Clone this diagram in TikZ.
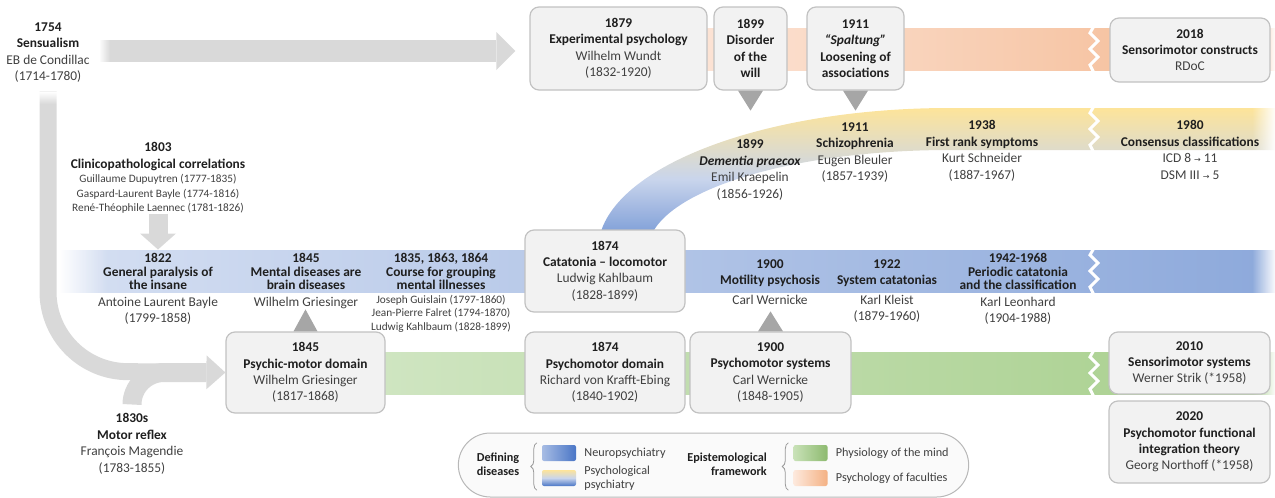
\documentclass[tikz,border=0pt]{standalone}
\usepackage{fontspec}
\setmainfont{Carlito}
\newfontfamily\arrowfont{DejaVu Sans}
\usepackage{tikz}
\usetikzlibrary{shapes,arrows.meta,fadings,positioning,decorations.pathreplacing}

\definecolor{boxfill}{HTML}{F2F2F2}
\definecolor{boxline}{HTML}{C2C2C2}
\definecolor{namegrey}{HTML}{404040}
\definecolor{greyarrow}{HTML}{D9D9D9}
\definecolor{tipgrey}{HTML}{A6A6A6}
\definecolor{peachL}{HTML}{FCE4D6}
\definecolor{peachR}{HTML}{F4B890}
\definecolor{blueL}{HTML}{D5DFF2}
\definecolor{blueR}{HTML}{8DA9DB}
\definecolor{greenL}{HTML}{CFE5C1}
\definecolor{greenR}{HTML}{A7CF8C}
\definecolor{yellowT}{HTML}{FDE49A}
\definecolor{blueB}{HTML}{6A8FD2}
\definecolor{paleband}{HTML}{C9D5EC}
\definecolor{neuroL}{HTML}{A7BCE4}
\definecolor{neuroR}{HTML}{4A76C6}
\definecolor{physL}{HTML}{C9E2B8}
\definecolor{physR}{HTML}{8DBA6F}
\definecolor{facL}{HTML}{FDE9DD}
\definecolor{facR}{HTML}{F4B183}

\tikzfading[name=fadein, left color=transparent!0, right color=transparent!100]
\tikzfading[name=fadeout, left color=transparent!100, right color=transparent!0]
\tikzfading[name=fadetop, top color=transparent!0, bottom color=transparent!100]

\newcommand{\who}[1]{\textcolor{namegrey}{#1}}
\newcommand{\mainsize}{\fontsize{13.4}{16.4}\selectfont}
\newcommand{\namesize}{\fontsize{11.3}{14}\selectfont}
\newcommand{\legendsize}{\fontsize{12.2}{13.8}\selectfont}
\newcommand{\goes}{{\arrowfont\fontsize{8}{8}\selectfont →}}

\tikzset{
	era/.style      = {draw = boxline, fill = boxfill, line width = 1.2pt,
		rounded corners = 9pt, align = center, inner sep = 1pt, text = black!88},
	note/.style     = {align = center, inner sep = 0pt, anchor = north, text = black!88},
	bandnote/.style = {note, font = \fontsize{13.4}{13.5}\selectfont},
	thread/.style   = {draw = greyarrow}, % grey arrows
	notch/.style    = {fill = tipgrey},
	swatch/.style   = {minimum width = 34pt, minimum height = 16pt,
		rounded corners = 2pt, inner sep = 0pt},
	keytext/.style  = {align = left, inner sep = 0pt, font = \legendsize, text = black!75},
	curly/.style    = {draw = black!40, line width = 0.8pt, decorate,
		decoration = {brace, amplitude = 6pt}}
}

\begin{document}
\begin{tikzpicture}[x=1pt, y=-1pt, font=\mainsize]
\useasboundingbox (0,0) rectangle (1275,498);

% coloured bands
\shade[left color=peachL, right color=peachR] (690,28) rectangle (1275,70);
\shade[top color=yellowT, bottom color=blueB, middle color=paleband]
	(598,250) arc[start angle=180, end angle=270, x radius=352, y radius=142] -- (1275,108)
	-- (1275,150) -- (950,150) arc[start angle=270, end angle=180, x radius=302, y radius=100] -- cycle;
\shade[left color=blueL, right color=blueR] (60,250) rectangle (1275,292);
\shade[left color=greenL, right color=greenR] (380,352) rectangle (1275,394);
\fill[white, path fading=fadein] (59,249) rectangle (108,293);
\foreach \y in {28,108,250,352}{
	\fill[white, path fading=fadeout] (1252,\y-1) rectangle (1276,\y+43);
	\draw[white, line width=3pt] (1094,\y-2) -- ++(-4,7) -- ++(8,8) -- ++(-8,8)
		-- ++(8,8) -- ++(-8,8) -- ++(4,8);
}

\draw
% psychology of faculties
node at (48,22.5)[note] (sens) {\textbf{1754}\\\textbf{Sensualism}\\\who{EB de Condillac}\\\who{(1714-1780)}}
node at (618.5,48.5)[era, minimum width=177pt, minimum height=83pt] (wundt)
	{\textbf{1879}\\\textbf{Experimental psychology}\\\who{Wilhelm Wundt}\\\who{(1832-1920)}}
node at (750.5,48.5)[era, minimum width=73pt, minimum height=83pt] (will)
	{\textbf{1899}\\\textbf{Disorder}\\\textbf{of the}\\\textbf{will}}
node at (855.5,48.5)[era, minimum width=97pt, minimum height=83pt] (spalt)
	{\textbf{1911}\\\textbf{\textit{“Spaltung”}}\\\textbf{Loosening of}\\\textbf{associations}}
node at (1190,50)[era, minimum width=160pt, minimum height=64pt] (rdoc)
	{\textbf{2018}\\\textbf{Sensorimotor constructs}\\\who{RDoC}}
% psychological psychiatry
node at (750,139.5)[note] (kraep) {\textbf{1899}\\\textbf{\textit{Dementia praecox}}\\\who{Emil Kraepelin}\\\who{(1856-1926)}}
node at (855,122.5)[note] (bleul) {\textbf{1911}\\\textbf{Schizophrenia}\\\who{Eugen Bleuler}\\\who{(1857-1939)}}
node at (982,120.5)[note] (schn) {\textbf{1938}\\\textbf{First rank symptoms}\\\who{Kurt Schneider}\\\who{(1887-1967)}}
node at (1190,120.5)[note] (icd) {\textbf{1980}\\\textbf{Consensus classifications}\\\who{ICD 8 \goes{} 11}\\\who{DSM III \goes{} 5}}
% neuropsychiatry
node at (158,142.5)[note] (clinico) {\textbf{1803}\\\textbf{Clinicopathological correlations}\\[-2pt]
	{\namesize\who{Guillaume Dupuytren (1777-1835)}}\\[-2pt]
	{\namesize\who{Gaspard-Laurent Bayle (1774-1816)}}\\[-2pt]
	{\namesize\who{René-Théophile Laennec (1781-1826)}}}
node at (158,253.5)[bandnote] (bayle) {\textbf{1822}\\\textbf{General paralysis of}\\\textbf{the insane}\\[3.5pt]
	\who{Antoine Laurent Bayle}\\[2.5pt]\who{(1799-1858)}}
node at (306,253.5)[bandnote] (brain) {\textbf{1845}\\\textbf{Mental diseases are}\\\textbf{brain diseases}\\[3pt]
	\who{Wilhelm Griesinger}}
node at (441,253.5)[bandnote] (course) {\textbf{1835, 1863, 1864}\\\textbf{Course for grouping}\\\textbf{mental illnesses}\\
	{\namesize\who{Joseph Guislain (1797-1860)}}\\
	{\namesize\who{Jean-Pierre Falret (1794-1870)}}\\
	{\namesize\who{Ludwig Kahlbaum (1828-1899)}}}
node at (605,271)[era, minimum width=160pt, minimum height=82pt] (cata)
	{\textbf{1874}\\\textbf{Catatonia – locomotor}\\\who{Ludwig Kahlbaum}\\\who{(1828-1899)}}
node at (770,259.5)[note] (motil) {\textbf{1900}\\\textbf{Motility psychosis}\\[3.5pt]\who{Carl Wernicke}}
node at (887,259.5)[note] (kleist) {\textbf{1922}\\\textbf{System catatonias}\\[3.5pt]\who{Karl Kleist}\\[-1pt]\who{(1879-1960)}}
node at (1018,253.5)[bandnote] (leon) {\textbf{1942-1968}\\\textbf{Periodic catatonia}\\\textbf{and the classification}\\[3.5pt]
	\who{Karl Leonhard}\\[2.5pt]\who{(1904-1988)}}
% physiology of the mind
node at (305.5,372.5)[era, minimum width=159pt, minimum height=81pt] (griesbox)
	{\textbf{1845}\\\textbf{Psychic-motor domain}\\\who{Wilhelm Griesinger}\\\who{(1817-1868)}}
node at (605,372.5)[era, minimum width=160pt, minimum height=81pt] (krafft)
	{\textbf{1874}\\\textbf{Psychomotor domain}\\\who{Richard von Krafft-Ebing}\\\who{(1840-1902)}}
node at (770.5,372.5)[era, minimum width=161pt, minimum height=81pt] (wern)
	{\textbf{1900}\\\textbf{Psychomotor systems}\\\who{Carl Wernicke}\\\who{(1848-1905)}}
node at (1189.5,363)[era, minimum width=161pt, minimum height=62pt] (strik)
	{\textbf{2010}\\\textbf{Sensorimotor systems}\\\who{Werner Strik (*1958)}}
node at (1189.5,442)[era, minimum width=161pt, minimum height=82pt] (northoff)
	{\textbf{2020}\\\textbf{Psychomotor functional}\\\textbf{integration theory}\\\who{Georg Northoff (*1958)}}
node at (132,413.5)[note] (magendie) {\textbf{1830s}\\\textbf{Motor reflex}\\\who{François Magendie}\\\who{(1783-1855)}};

% grey threads
\coordinate (sensband) at (100,51);
\draw[thread, line width=22pt, -{Triangle[width=38pt, length=19pt, line width=0pt]}, shorten >=14pt]
	(sensband) -- (sensband -| wundt.west);
\draw[thread, line width=17pt, -{Triangle[width=34pt, length=19pt, line width=0pt]}]
	([yshift=-9pt]sens.south) -- ++(0,200) arc[start angle=180, end angle=90, radius=80] -- (griesbox.west);
\draw[thread, line width=19pt, shorten >=19pt]
	([yshift=9pt]magendie.north) arc[start angle=180, end angle=270, radius=32] -- (griesbox.west);
\draw[thread, line width=19pt, -{Triangle[width=36pt, length=16pt, line width=0pt]}, shorten >=4pt]
	(clinico.south) -- (clinico.south |- bayle.north);
\fill[white, path fading=fadein] (99,38) rectangle (110,64);
\fill[white, path fading=fadetop] (37,92) rectangle (60,104);

% small pointers
\fill[notch] ([xshift=-12.5pt]will.south) -- ([xshift=12.5pt]will.south) -- ([yshift=-20pt]will.south) -- cycle;
\fill[notch] ([xshift=-12.5pt]spalt.south) -- ([xshift=12.5pt]spalt.south) -- ([yshift=-20pt]spalt.south) -- cycle;
\fill[notch] ([xshift=-12pt]griesbox.north) -- ([xshift=12pt]griesbox.north) -- ([yshift=22pt]griesbox.north) -- cycle;
\fill[notch] ([xshift=-12.5pt]wern.north) -- ([xshift=12.5pt]wern.north) -- ([yshift=20pt]wern.north) -- cycle;

% legend
\draw
node at (713.5,465)[rounded rectangle, draw=black!28, fill=black!2, line width=1pt,
	minimum width=517pt, minimum height=64pt] (legend) {}
node at (498,464)[note, anchor=center, font=\legendsize\bfseries] (defining) {Defining\\diseases}
node at (559,453)[swatch, left color=neuroL, right color=neuroR] (neuro) {}
node at (559,478)[swatch, top color=yellowT, bottom color=neuroR, middle color=paleband] (psych) {}
node[keytext, right=8pt of neuro] (neurotext) {Neuropsychiatry}
node[keytext, right=8pt of psych] (psychtext) {Psychological\\psychiatry}
node at (767,464)[note, anchor=east, align=right, font=\legendsize\bfseries] (episte) {Epistemological\\framework}
node at (810.5,453)[swatch, left color=physL, right color=physR] (phys) {}
node at (810.5,478)[swatch, left color=facL, right color=facR] (fac) {}
node[keytext, right=8pt of phys] (phystext) {Physiology of the mind}
node[keytext, right=8pt of fac] (factext) {Psychology of faculties};
\draw[curly] ([xshift=-5pt, yshift=-4pt]psych.south west) -- ([xshift=-5pt, yshift=2pt]neuro.north west);
\draw[curly] ([xshift=-5pt, yshift=-4pt]fac.south west) -- ([xshift=-5pt, yshift=2pt]phys.north west);
\end{tikzpicture}
\end{document}
